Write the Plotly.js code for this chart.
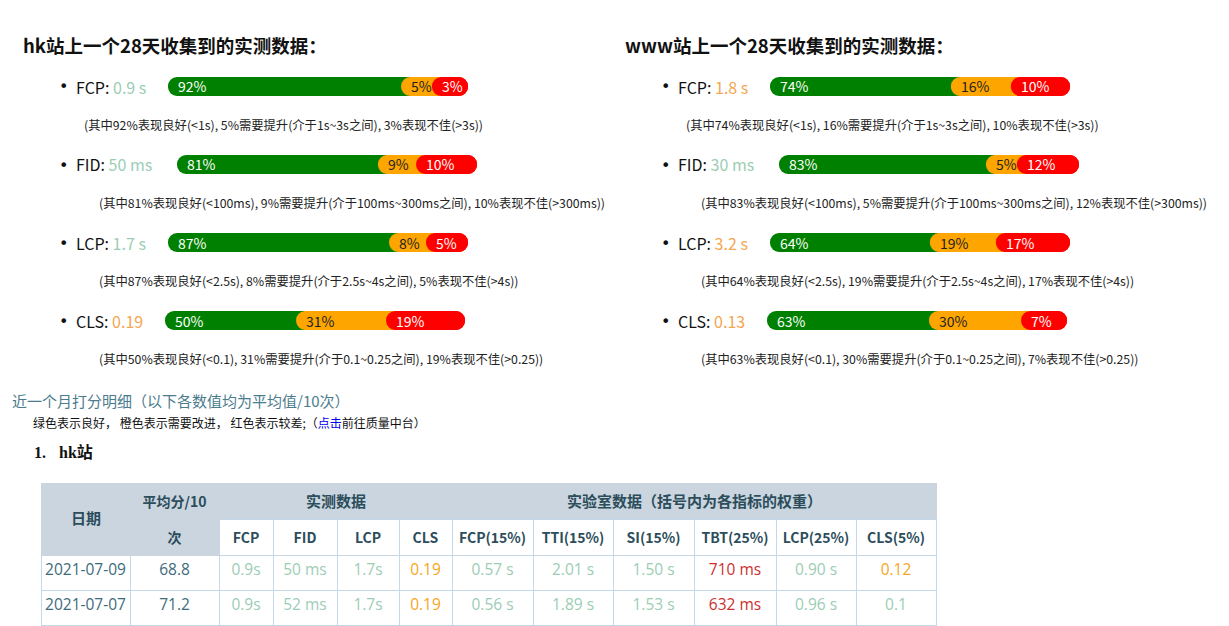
<!DOCTYPE html>
<html><head><meta charset="utf-8">
<script src="https://cdn.plot.ly/plotly-3.0.1.min.js"></script>
<style>html,body{margin:0;padding:0;background:#fff;} #chart{width:1229px;height:626px;}</style>
</head><body><div id="chart"></div>
<script>
// ---------------- data ----------------
const metricNames = ['FCP', 'FID', 'LCP', 'CLS'];
const goodLimits = ['1s', '100ms', '2.5s', '0.1'];
const poorLimits = ['3s', '300ms', '4s', '0.25'];

const hkFieldValues = ['0.9 s', '50 ms', '1.7 s', '0.19'];
const hkFieldLevels = ['good', 'good', 'good', 'ni'];
const hkGood = [92, 81, 87, 50];
const hkNeedsImprovement = [5, 9, 8, 31];
const hkPoor = [3, 10, 5, 19];
// where the orange / red segments begin on each drawn bar (share of bar length, %)
const hkOrangeStart = [77.7, 67.0, 73.7, 43.7];
const hkRedStart = [88.0, 79.7, 86.0, 73.7];

const wwwFieldValues = ['1.8 s', '30 ms', '3.2 s', '0.13'];
const wwwFieldLevels = ['ni', 'good', 'ni', 'ni'];
const wwwGood = [74, 83, 64, 63];
const wwwNeedsImprovement = [16, 5, 19, 30];
const wwwPoor = [10, 12, 17, 7];
const wwwOrangeStart = [60.3, 69.0, 53.3, 54.0];
const wwwRedStart = [80.3, 79.3, 75.3, 84.7];

const siteNames = ['hk', 'www'];

// table
const fieldHeaders = ['FCP', 'FID', 'LCP', 'CLS'];
const labHeaders = ['FCP(15%)', 'TTI(15%)', 'SI(15%)', 'TBT(25%)', 'LCP(25%)', 'CLS(5%)'];
const tableDates = ['2021-07-09', '2021-07-07'];
const tableAvgScore = ['68.8', '71.2'];
const fieldFCP = ['0.9s', '0.9s'];
const fieldFID = ['50 ms', '52 ms'];
const fieldLCP = ['1.7s', '1.7s'];
const fieldCLS = ['0.19', '0.19'];
const labFCP = ['0.57 s', '0.56 s'];
const labTTI = ['2.01 s', '1.89 s'];
const labSI = ['1.50 s', '1.53 s'];
const labTBT = ['710 ms', '632 ms'];
const labLCP = ['0.90 s', '0.96 s'];
const labCLS = ['0.12', '0.1'];
const fieldFCPLevel = ['good', 'good'];
const fieldFIDLevel = ['good', 'good'];
const fieldLCPLevel = ['good', 'good'];
const fieldCLSLevel = ['ni', 'ni'];
const labFCPLevel = ['good', 'good'];
const labTTILevel = ['good', 'good'];
const labSILevel = ['good', 'good'];
const labTBTLevel = ['poor', 'poor'];
const labLCPLevel = ['good', 'good'];
const labCLSLevel = ['ni', 'good'];

// ---------------- styling / layout ----------------
const W = 1229, H = 626;
const PX = x => x / W, PY = y => 1 - y / H;
const FONT = '"Noto Sans CJK SC", "Noto Sans", sans-serif';
const BODYFONT = '"Open Sans", "Noto Sans CJK SC", sans-serif';
const SERIF = '"Liberation Serif", "DejaVu Serif", "Noto Sans CJK SC", serif';
const GREEN = '#008000', ORANGE = '#ffa500', RED = '#ff0000';
const levelTextColor = {good: '#9bcdb4', ni: '#f5a64f', poor: '#d0312d'};
const tableLevelColor = {good: '#9bcdb4', ni: '#f5a623', poor: '#cc2f2f'};
const HEADFILL = '#cad5df', LINE = '#c5d8ea', HEADTXT = '#2c4d5b', BODYTXT = '#3d6b7b';

const rowY = [86.5, 164.5, 242.5, 320.5];
const barH = 19, barLen = 300;
const barStartX = [168, 177, 168, 165];
const siteOffset = [0, 602];

const traces = [];
const annotations = [];
const layout = {
  width: W, height: H,
  margin: {l: 0, r: 0, t: 0, b: 0},
  paper_bgcolor: '#ffffff', plot_bgcolor: 'rgba(0,0,0,0)',
  barmode: 'overlay', showlegend: false,
  font: {family: FONT},
  annotations: annotations
};

function addText(x, y, text, size, color, extra) {
  annotations.push(Object.assign({
    xref: 'paper', yref: 'paper', x: PX(x), y: PY(y), text: text, showarrow: false,
    xanchor: 'left', yanchor: 'middle', font: {family: FONT, size: size, color: color}
  }, extra || {}));
}

let axisCount = 0;
function addBar(startPx, centerY, good, ni, poor, orangeStart, redStart) {
  axisCount++;
  const xa = 'x' + axisCount, ya = 'y' + axisCount;
  layout['xaxis' + axisCount] = {domain: [PX(startPx), PX(startPx + barLen)], range: [0, 100], visible: false, fixedrange: true, anchor: ya};
  layout['yaxis' + axisCount] = {domain: [PY(centerY + barH / 2), PY(centerY - barH / 2)], range: [-0.5, 0.5], visible: false, fixedrange: true, anchor: xa};
  const capU = (barH / 2) / (barLen / 100);
  const segs = [
    {color: GREEN, from: 0, to: orangeStart + 2 * capU},
    {color: ORANGE, from: orangeStart, to: redStart + 2 * capU},
    {color: RED, from: redStart, to: 100}
  ];
  segs.forEach(s => traces.push({
    type: 'bar', orientation: 'h', xaxis: xa, yaxis: ya, y: [0], base: [s.to], x: [s.from - s.to], width: [1],
    marker: {color: s.color, cornerradius: '50%', line: {width: 0}}, hoverinfo: 'skip', showlegend: false
  }));
  traces.push({
    type: 'bar', orientation: 'h', xaxis: xa, yaxis: ya, y: [0], base: [redStart + capU], x: [100 - redStart - capU], width: [1],
    marker: {color: RED, cornerradius: '50%', line: {width: 0}}, hoverinfo: 'skip', showlegend: false
  });
  [[0, good, '#ffffff'], [orangeStart, ni, '#222222'], [redStart, poor, '#ffffff']].forEach(([x, v, c]) => annotations.push({
    xref: xa, yref: ya, x: x, y: 0, text: v + '%', showarrow: false, xanchor: 'left', yanchor: 'middle', xshift: 8,
    font: {family: FONT, size: 14, color: c}
  }));
}

const sites = [
  {name: siteNames[0], values: hkFieldValues, levels: hkFieldLevels, good: hkGood, ni: hkNeedsImprovement, poor: hkPoor, oS: hkOrangeStart, rS: hkRedStart},
  {name: siteNames[1], values: wwwFieldValues, levels: wwwFieldLevels, good: wwwGood, ni: wwwNeedsImprovement, poor: wwwPoor, oS: wwwOrangeStart, rS: wwwRedStart}
];

sites.forEach((s, si) => {
  const off = siteOffset[si];
  addText(21 + off, 45, '<b>' + s.name + '站上一个28天收集到的实测数据：</b>', 18.5, '#111111');
  metricNames.forEach((m, mi) => {
    const y = rowY[mi];
    addText(57 + off, y + 0.5, '•', 16, '#111111', {font: {family: '"DejaVu Sans", sans-serif', size: 16, color: '#111111'}});
    addText(74 + off, y, m + ': <span style="color:' + levelTextColor[s.levels[mi]] + '">' + s.values[mi] + '</span>', 16, '#111111');
    addBar(barStartX[mi] + off, y, s.good[mi], s.ni[mi], s.poor[mi], s.oS[mi], s.rS[mi]);
    const note = '(其中' + s.good[mi] + '%表现良好(&lt;' + goodLimits[mi] + '), ' + s.ni[mi] + '%需要提升(介于' +
      goodLimits[mi] + '~' + poorLimits[mi] + '之间), ' + s.poor[mi] + '%表现不佳(&gt;' + poorLimits[mi] + '))';
    addText((mi === 0 ? 82 : 97) + off, y + 38.5, note, 12.3, '#222222');
  });
});

addText(10, 400, '近一个月打分明细（以下各数值均为平均值/10次）', 15, '#4b7c8e');
addText(31, 422, '绿色表示良好， 橙色表示需要改进， 红色表示较差;（<span style="color:#0000ee">点击</span>前往质量中台）', 12, '#111111');
addText(32, 452, '<b>1.</b>', 16, '#111111', {font: {family: SERIF, size: 16, color: '#111111'}});
addText(57, 452, '<b>hk站</b>', 16, '#111111', {font: {family: SERIF, size: 16, color: '#111111'}});

// ---- table: one trace, two header rows (merged captions laid over the top row) ----
const bodyCols = [tableDates, tableAvgScore, fieldFCP, fieldFID, fieldLCP, fieldCLS, labFCP, labTTI, labSI, labTBT, labLCP, labCLS];
const bodyLevels = [null, null, fieldFCPLevel, fieldFIDLevel, fieldLCPLevel, fieldCLSLevel, labFCPLevel, labTTILevel, labSILevel, labTBTLevel, labLCPLevel, labCLSLevel];
const bodyFontColors = bodyLevels.map((lv, i) => lv ? lv.map(l => tableLevelColor[l]) : bodyCols[i].map(() => BODYTXT));
const subHeaders = fieldHeaders.concat(labHeaders);
const headerValues = [['', ''], ['<b>平均分/10</b>', '<b>次</b>']].concat(subHeaders.map(h => ['', '<b>' + h + '</b>']));
const headerFill = headerValues.map((v, i) => i < 2 ? [HEADFILL, HEADFILL] : [HEADFILL, '#ffffff']);
const headerLine = headerValues.map((v, i) => i < 2 ? [HEADFILL, HEADFILL] : [HEADFILL, LINE]);

traces.push({
  type: 'table',
  domain: {x: [PX(41), PX(936)], y: [0, PY(483)]},
  columnwidth: [89, 89, 54, 64, 62, 53, 81, 80, 81, 82, 80, 80],
  header: {
    values: headerValues,
    height: 35, align: 'center',
    fill: {color: headerFill},
    line: {color: headerLine, width: 1},
    font: {family: FONT, size: 14, color: HEADTXT}
  },
  cells: {
    values: bodyCols,
    height: 35, align: 'center',
    fill: {color: '#ffffff'},
    line: {color: LINE, width: 1},
    font: {family: BODYFONT, size: 15.5, color: bodyFontColors}
  }
});

[['<b>日期</b>', 85.5, 517], ['<b>实测数据</b>', 335.5, 500.5], ['<b>实验室数据（括号内为各指标的权重）</b>', 694, 500.5]].forEach(([t, x, y]) =>
  annotations.push({xref: 'paper', yref: 'paper', x: PX(x), y: PY(y), text: t, showarrow: false,
    xanchor: 'center', yanchor: 'middle', font: {family: FONT, size: 15, color: HEADTXT}}));

Plotly.newPlot('chart', traces, layout, {displayModeBar: false, staticPlot: true});
</script>
</body></html>
